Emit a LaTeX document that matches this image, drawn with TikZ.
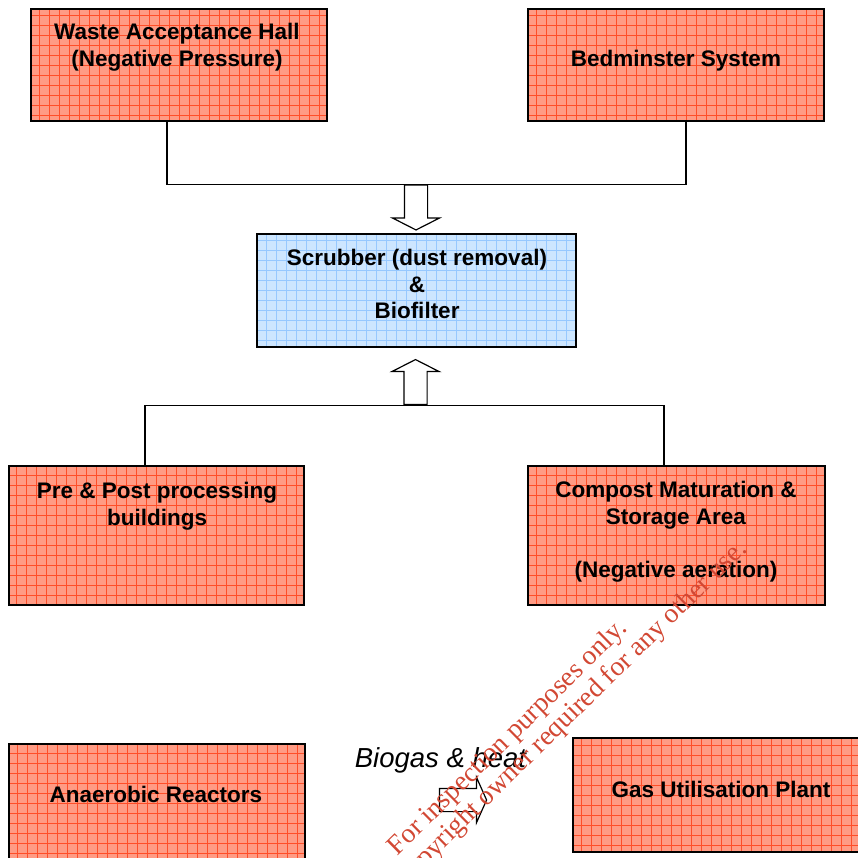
\documentclass[tikz,border=0pt]{standalone}
\usepackage{fontspec}
\setmainfont{Liberation Sans}
\newfontfamily\stampfont{Liberation Serif}
\usetikzlibrary{positioning, shapes.arrows, calc}
\definecolor{boxred}{RGB}{255,155,132}
\definecolor{gridred}{RGB}{255,78,40}
\definecolor{boxblue}{RGB}{205,230,255}
\definecolor{gridblue}{RGB}{150,200,255}
\definecolor{stampred}{RGB}{210,72,52}

\begin{document}
\begin{tikzpicture}[
    x=1pt, y=-1pt,
    font=\fontsize{22.5}{26.7}\selectfont\bfseries,
    unit/.style={draw=black, line width=1.6pt, fill=boxred, inner sep=0pt,
      path picture={\draw[gridred, line width=0.7pt] (path picture bounding box.south west) grid[step=10pt] (path picture bounding box.north east);}},
    filter/.style={unit, fill=boxblue,
      path picture={\draw[gridblue, line width=0.7pt] (path picture bounding box.south west) grid[step=10pt] (path picture bounding box.north east);}},
    lbl/.style={align=center, inner sep=0pt},
    hollow/.style={single arrow, draw=black, line width=1.2pt, fill=white, inner xsep=0pt, inner ysep=11pt,
      single arrow head extend=12pt, single arrow tip angle=126, minimum height=45pt},
    link/.style={black, line width=1.2pt},
    stamptext/.style={align=center, inner sep=0pt, text=stampred,
      font=\stampfont\mdseries\fontsize{27.5}{27.5}\selectfont}
  ]
    \useasboundingbox (0,0) rectangle (858,857);
    \clip (0,0) rectangle (858,857);
    \node[unit, minimum width=296pt, minimum height=112pt] (waste) at (179,65) {};
    \node[unit, minimum width=296pt, minimum height=112pt] (bed) at (676,65) {};
    \node[filter, minimum width=319pt, minimum height=113pt] (scrub) at (416.5,290.5) {};
    \node[unit, minimum width=295pt, minimum height=139pt] (pre) at (156.5,535.5) {};
    \node[unit, minimum width=297pt, minimum height=139pt] (comp) at (676.5,535.5) {};
    \node[unit, minimum width=296pt, minimum height=118pt] (anaer) at (157,803) {};
    \node[unit, minimum width=296pt, minimum height=114pt] (gas) at (721,795) {};
    \node[lbl] (wasteT) at (177,47) {Waste Acceptance Hall\\(Negative Pressure)};
    \node[lbl] (bedT) at (676,61) {Bedminster System};
    \node[lbl] (scrubT) at (417,284) {Scrubber (dust removal)\\\&\\Biofilter};
    \node[lbl] (preT) at (157,506) {Pre \& Post processing\\buildings};
    \node[lbl] (compT) at (676,532) {Compost Maturation \&\\Storage Area\\[26.7pt](Negative aeration)};
    \node[lbl] (anaerT) at (156,794) {Anaerobic Reactors};
    \node[lbl] (gasT) at (721,789) {Gas Utilisation Plant};
    \node[hollow, rotate=-90] (down) at (416,204.5) {};
    \node[hollow, rotate=90] (up) at (415.5,385) {};
    \node[hollow, minimum height=47pt, single arrow head extend=11pt, single arrow tip angle=132] (biogasArrow) at (460.5,800) {};
    \node[lbl, font=\fontsize{27.5}{30}\selectfont\mdseries\itshape] (biogas) at (440.5,760) {Biogas \& heat};
    \draw[link] ($(waste.south)+(-12,0)$) |- (down.tail) -| ($(bed.south)+(10,0)$);
    \draw[link] ($(pre.north)+(-11.5,0)$) |- (up.tail) -| ($(comp.north)+(-12.5,0)$);
    \node[stamptext, rotate=44.5] (stamp) at (518,748) {For inspection purposes only.\\Consent of copyright owner required for any other use.};
  \end{tikzpicture}
\end{document}
